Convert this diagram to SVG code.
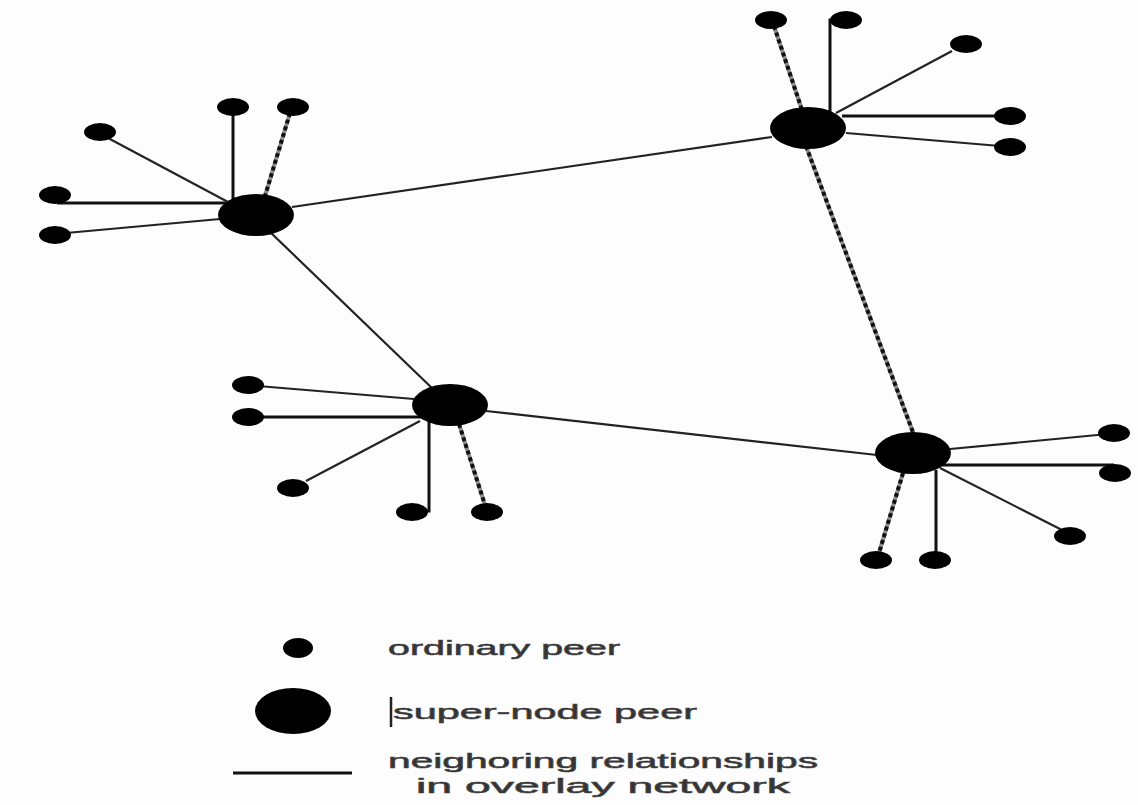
<svg xmlns="http://www.w3.org/2000/svg" width="1138" height="805" viewBox="0 0 1138 805">
  <style>
    .solid { stroke: #111; stroke-width: 3; fill: none; stroke-linecap: butt; }
    .thin { stroke: #222; stroke-width: 2.2; fill: none; }
    .hatch-base { stroke: #8a8a8a; stroke-width: 4; fill: none; }
    .hatch { stroke: #111; stroke-width: 4; stroke-dasharray: 4 3; fill: none; }
    .peer { fill: #000; }
    .label { font-family: "Liberation Sans", Arial, sans-serif; font-size: 21px; fill: #333; stroke: #444; stroke-width: 0.6; }
  </style>

  <rect width="1138" height="805" fill="#fdfdfd"/>

  <!-- connectors -->
  <g id="connectors">
    <!-- backbone between super-nodes -->
    <line class="thin" x1="292" y1="207" x2="772" y2="137"/>
    <line class="thin" x1="268" y1="230" x2="434" y2="390"/>
    <line class="thin" x1="486" y1="411" x2="877" y2="455"/>
    <line class="hatch-base" x1="806" y1="146" x2="914" y2="435"/>
    <line class="hatch" x1="806" y1="146" x2="914" y2="435"/>

    <!-- super-node A spokes -->
    <line class="thin" x1="108" y1="138" x2="228" y2="202"/>
    <line class="solid" x1="57" y1="203" x2="226" y2="203"/>
    <line class="thin" x1="66" y1="233" x2="220" y2="219"/>
    <line class="solid" x1="233" y1="110" x2="233" y2="200"/>
    <line class="hatch-base" x1="290" y1="113" x2="265" y2="196"/>
    <line class="hatch" x1="290" y1="113" x2="265" y2="196"/>

    <!-- super-node B spokes -->
    <line class="hatch-base" x1="774" y1="26" x2="802" y2="110"/>
    <line class="hatch" x1="774" y1="26" x2="802" y2="110"/>
    <path class="solid" d="M830 112 V20 H840"/>
    <line class="thin" x1="952" y1="51" x2="836" y2="113"/>
    <line class="solid" x1="842" y1="116" x2="1004" y2="116"/>
    <line class="thin" x1="846" y1="133" x2="1000" y2="146"/>

    <!-- super-node C spokes -->
    <line class="thin" x1="258" y1="386" x2="414" y2="399"/>
    <line class="solid" x1="252" y1="417" x2="424" y2="417"/>
    <line class="thin" x1="306" y1="481" x2="420" y2="421"/>
    <path class="solid" d="M429 420 V511 H420"/>
    <line class="hatch-base" x1="459" y1="424" x2="485" y2="505"/>
    <line class="hatch" x1="459" y1="424" x2="485" y2="505"/>

    <!-- super-node D spokes -->
    <line class="thin" x1="950" y1="449" x2="1108" y2="434"/>
    <line class="solid" x1="942" y1="465" x2="1114" y2="465"/>
    <line class="thin" x1="940" y1="468" x2="1062" y2="530"/>
    <line class="solid" x1="936" y1="470" x2="936" y2="558"/>
    <line class="hatch-base" x1="903" y1="473" x2="879" y2="553"/>
    <line class="hatch" x1="903" y1="473" x2="879" y2="553"/>
  </g>

  <!-- super-node peers -->
  <g id="super-a"><ellipse class="peer" cx="256" cy="215" rx="38" ry="21"/></g>
  <g id="super-b"><ellipse class="peer" cx="808" cy="128" rx="38" ry="21"/></g>
  <g id="super-c"><ellipse class="peer" cx="450" cy="405" rx="38" ry="21"/></g>
  <g id="super-d"><ellipse class="peer" cx="913" cy="453" rx="38" ry="21"/></g>

  <!-- ordinary peers around A -->
  <g id="peer-a1"><ellipse class="peer" cx="100" cy="132" rx="16" ry="9"/></g>
  <g id="peer-a2"><ellipse class="peer" cx="55" cy="195" rx="16" ry="9"/></g>
  <g id="peer-a3"><ellipse class="peer" cx="55" cy="235" rx="16" ry="9"/></g>
  <g id="peer-a4"><ellipse class="peer" cx="233" cy="107" rx="16" ry="9"/></g>
  <g id="peer-a5"><ellipse class="peer" cx="293" cy="107" rx="16" ry="9"/></g>

  <!-- ordinary peers around B -->
  <g id="peer-b1"><ellipse class="peer" cx="771" cy="20" rx="16" ry="9"/></g>
  <g id="peer-b2"><ellipse class="peer" cx="846" cy="20" rx="16" ry="9"/></g>
  <g id="peer-b3"><ellipse class="peer" cx="966" cy="44" rx="16" ry="9"/></g>
  <g id="peer-b4"><ellipse class="peer" cx="1010" cy="116" rx="16" ry="9"/></g>
  <g id="peer-b5"><ellipse class="peer" cx="1010" cy="147" rx="16" ry="9"/></g>

  <!-- ordinary peers around C -->
  <g id="peer-c1"><ellipse class="peer" cx="248" cy="385" rx="16" ry="9"/></g>
  <g id="peer-c2"><ellipse class="peer" cx="248" cy="417" rx="16" ry="9"/></g>
  <g id="peer-c3"><ellipse class="peer" cx="293" cy="488" rx="16" ry="9"/></g>
  <g id="peer-c4"><ellipse class="peer" cx="412" cy="512" rx="16" ry="9"/></g>
  <g id="peer-c5"><ellipse class="peer" cx="487" cy="512" rx="16" ry="9"/></g>

  <!-- ordinary peers around D -->
  <g id="peer-d1"><ellipse class="peer" cx="1114" cy="433" rx="16" ry="9"/></g>
  <g id="peer-d2"><ellipse class="peer" cx="1115" cy="473" rx="16" ry="9"/></g>
  <g id="peer-d3"><ellipse class="peer" cx="1070" cy="536" rx="16" ry="9"/></g>
  <g id="peer-d4"><ellipse class="peer" cx="876" cy="560" rx="16" ry="9"/></g>
  <g id="peer-d5"><ellipse class="peer" cx="935" cy="560" rx="16" ry="9"/></g>

  <!-- legend -->
  <g id="legend">
    <ellipse class="peer" cx="298" cy="648" rx="15" ry="10"/>
    <text class="label" x="388" y="655" textLength="232" lengthAdjust="spacingAndGlyphs">ordinary peer</text>
    <ellipse class="peer" cx="293" cy="711" rx="38" ry="23"/>
    <line x1="391" y1="697" x2="391" y2="727" stroke="#222" stroke-width="2.5"/>
    <text class="label" x="393" y="719" textLength="304" lengthAdjust="spacingAndGlyphs">super-node peer</text>
    <line class="solid" x1="233" y1="773" x2="352" y2="773" stroke-width="2.5"/>
    <text class="label" x="388" y="768" textLength="430" lengthAdjust="spacingAndGlyphs">neighoring relationships</text>
    <text class="label" x="416" y="793" textLength="374" lengthAdjust="spacingAndGlyphs">in overlay network</text>
  </g>
</svg>
